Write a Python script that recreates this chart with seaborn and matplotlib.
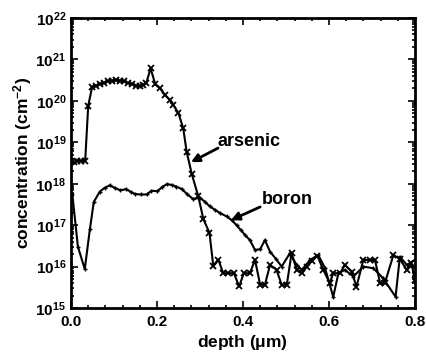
import numpy as np
import pandas as pd
import matplotlib
matplotlib.use("Agg")
import matplotlib.pyplot as plt
from matplotlib.ticker import FixedLocator, FixedFormatter, LogLocator, MultipleLocator, NullFormatter
import seaborn as sns

# Depth profiles (depth in micrometres, log10 of concentration)
arsenic_depth = [0.000, 0.008, 0.015, 0.023, 0.033, 0.040, 0.049, 0.059, 0.067, 0.077,
                 0.086, 0.095, 0.105, 0.114, 0.123, 0.133, 0.142, 0.151, 0.160, 0.167,
                 0.175, 0.185, 0.196, 0.207, 0.219, 0.230, 0.238, 0.250, 0.261, 0.269,
                 0.281, 0.296, 0.308, 0.322, 0.331, 0.343, 0.354, 0.365, 0.379, 0.391,
                 0.402, 0.416, 0.428, 0.440, 0.451, 0.463, 0.478, 0.490, 0.502, 0.513,
                 0.525, 0.537, 0.548, 0.560, 0.573, 0.587, 0.602, 0.610, 0.626, 0.637,
                 0.653, 0.664, 0.680, 0.695, 0.707, 0.719, 0.730, 0.750, 0.765, 0.781,
                 0.792, 0.800]
arsenic_log = [18.52, 18.52, 18.55, 18.55, 18.56, 19.88, 20.33, 20.37, 20.41, 20.44,
               20.48, 20.49, 20.50, 20.49, 20.47, 20.43, 20.41, 20.37, 20.36, 20.38,
               20.42, 20.79, 20.40, 20.30, 20.14, 20.02, 19.90, 19.70, 19.34, 18.77,
               18.23, 17.70, 17.14, 16.82, 16.01, 16.16, 15.84, 15.84, 15.84, 15.52,
               15.84, 15.84, 16.16, 15.56, 15.56, 16.04, 15.92, 15.56, 15.56, 16.32,
               15.92, 15.84, 16.00, 16.13, 16.26, 15.92, 15.60, 15.84, 15.84, 16.04,
               15.88, 15.51, 16.16, 16.16, 16.16, 15.60, 15.60, 16.28, 16.18, 15.92,
               16.08, 15.68]

boron_depth = [0.003, 0.016, 0.032, 0.044, 0.053, 0.067, 0.078, 0.090, 0.102, 0.115,
               0.128, 0.140, 0.149, 0.163, 0.176, 0.187, 0.201, 0.212, 0.223, 0.235,
               0.245, 0.258, 0.270, 0.284, 0.300, 0.312, 0.323, 0.335, 0.347, 0.362,
               0.374, 0.385, 0.395, 0.405, 0.416, 0.428, 0.440, 0.451, 0.463, 0.477,
               0.490, 0.509, 0.525, 0.537, 0.556, 0.575, 0.591, 0.610, 0.622, 0.637,
               0.657, 0.680, 0.703, 0.726, 0.755, 0.765, 0.781, 0.800]
boron_log = [17.75, 16.48, 15.94, 16.91, 17.56, 17.81, 17.90, 17.96, 17.90, 17.84,
             17.87, 17.80, 17.75, 17.74, 17.74, 17.83, 17.82, 17.92, 17.99, 17.97,
             17.93, 17.87, 17.75, 17.63, 17.66, 17.56, 17.45, 17.37, 17.29, 17.21,
             17.12, 17.00, 16.88, 16.76, 16.64, 16.40, 16.42, 16.64, 16.36, 16.18,
             16.00, 16.32, 16.04, 15.92, 16.16, 16.28, 15.96, 15.27, 15.84, 15.92,
             15.76, 16.00, 15.96, 15.72, 15.27, 16.24, 16.04, 16.16]

x_ticks = [0.0, 0.2, 0.4, 0.6, 0.8]
x_tick_labels = ["0.0", "0.2", "0.4", "0.6", "0.8"]
y_exponents = [15, 16, 17, 18, 19, 20, 21, 22]

sns.set_style("ticks")
plt.rcParams["font.family"] = ["Liberation Sans", "DejaVu Sans"]
plt.rcParams["font.weight"] = "bold"
plt.rcParams["mathtext.fontset"] = "custom"
plt.rcParams["mathtext.rm"] = "Liberation Sans:bold"
plt.rcParams["mathtext.bf"] = "Liberation Sans:bold"
plt.rcParams["mathtext.it"] = "Liberation Sans:bold"
plt.rcParams["text.color"] = "black"
plt.rcParams["axes.labelcolor"] = "black"
plt.rcParams["xtick.color"] = "black"
plt.rcParams["ytick.color"] = "black"

arsenic = pd.DataFrame({"depth": arsenic_depth, "conc": np.power(10.0, arsenic_log)})
boron = pd.DataFrame({"depth": boron_depth, "conc": np.power(10.0, boron_log)})

fig = plt.figure(figsize=(4.26, 3.55), dpi=100)
ax = fig.add_axes([0.1667, 0.1324, 0.8073, 0.8169])

sns.lineplot(data=arsenic, x="depth", y="conc", sort=False, color="black",
             linewidth=1.5, marker="x", markersize=4, markeredgewidth=1.3,
             markeredgecolor="black", ax=ax)
sns.lineplot(data=boron, x="depth", y="conc", sort=False, color="black",
             linewidth=1.5, marker="+", markersize=3, markeredgewidth=1.0,
             markeredgecolor="black", ax=ax)

ax.set_yscale("log")
ax.set_xlim(0.0, 0.8)
ax.set_ylim(1e15, 1e22)

ax.xaxis.set_major_locator(FixedLocator(x_ticks))
ax.xaxis.set_major_formatter(FixedFormatter(x_tick_labels))
ax.xaxis.set_minor_locator(MultipleLocator(0.04))

y_major = [10.0 ** e for e in y_exponents]
ax.yaxis.set_major_locator(FixedLocator(y_major))
ax.yaxis.set_major_formatter(FixedFormatter([r"$\mathbf{10^{%d}}$" % e for e in y_exponents]))
ax.yaxis.set_minor_locator(LogLocator(base=10, subs=np.arange(2, 10), numticks=20))
ax.yaxis.set_minor_formatter(NullFormatter())

ax.tick_params(which="both", direction="in", top=True, right=True, width=1.2,
               colors="black", labelsize=11)
ax.tick_params(which="major", length=5)
ax.tick_params(which="minor", length=2.5)
ax.tick_params(axis="x", which="major", pad=5)
for side in ["left", "right", "top", "bottom"]:
    ax.spines[side].set_visible(True)
    ax.spines[side].set_linewidth(2.0)
    ax.spines[side].set_color("black")

ax.set_xlabel(r"depth ($\mathregular{\mu}$m)", fontsize=12.5, fontweight="bold", labelpad=3)
ax.set_ylabel(r"concentration (cm$^{\mathbf{-2}}$)", fontsize=12.5, fontweight="bold", labelpad=1)

# Curve labels with arrows
ax.text(0.340, 10 ** 19.03, "arsenic", fontsize=13, fontweight="bold", va="center", ha="left")
ax.annotate("", xy=(0.279, 10 ** 18.52), xytext=(0.342, 10 ** 18.86),
            arrowprops=dict(arrowstyle="-|>", lw=2, color="black", mutation_scale=12,
                            shrinkA=0, shrinkB=0))
ax.text(0.444, 10 ** 17.63, "boron", fontsize=13, fontweight="bold", va="center", ha="left")
ax.annotate("", xy=(0.372, 10 ** 17.12), xytext=(0.440, 10 ** 17.44),
            arrowprops=dict(arrowstyle="-|>", lw=2, color="black", mutation_scale=12,
                            shrinkA=0, shrinkB=0))

fig.savefig("out.png", dpi=100)
